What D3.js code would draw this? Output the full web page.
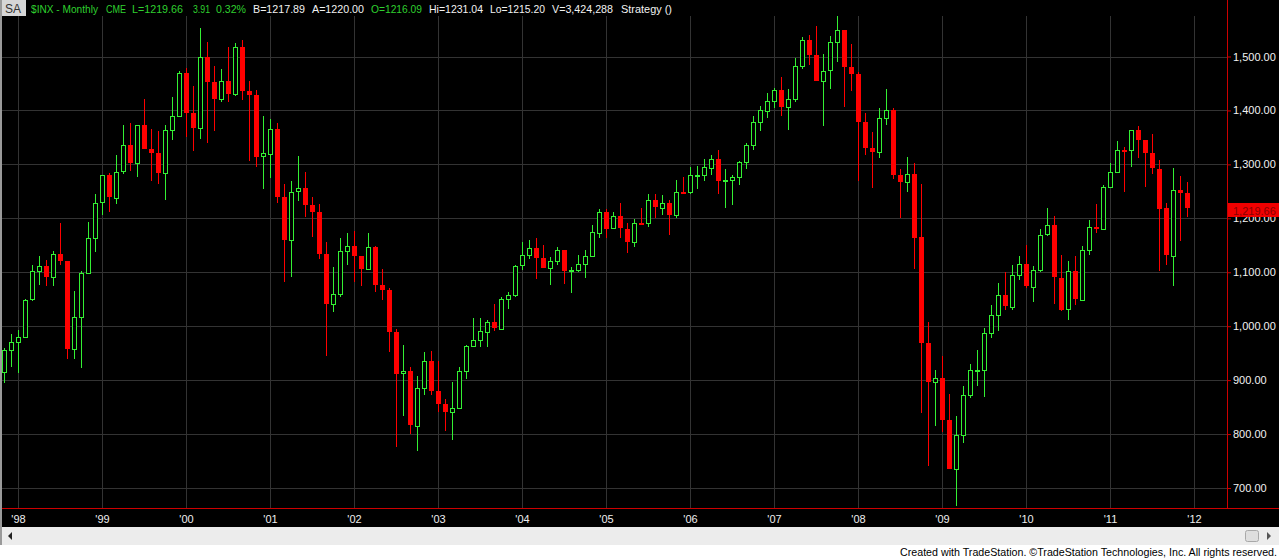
<!DOCTYPE html>
<html>
<head>
<meta charset="utf-8">
<script src="https://cdn.jsdelivr.net/npm/d3@7/dist/d3.min.js"></script>
<style>
  html, body { margin: 0; padding: 0; background: #ffffff; }
  svg { display: block; font-family: "Liberation Sans", Arial, sans-serif; }
</style>
</head>
<body>
<svg id="chart" width="1279" height="559"></svg>
<script>
// ---- Data: $INX monthly bars, Nov 1997 .. Dec 2011 ----
const firstMonth = new Date(1997, 10, 1);
const lastMonthEnd = new Date(2012, 0, 1);

const opens = [
  914.62, 955.40,
  970.43, 980.28, 1049.34, 1101.75, 1111.75, 1090.82, 1133.84, 1120.67, 957.28, 1017.01, 1098.67, 1163.63,
  1229.23, 1279.64, 1238.33, 1286.37, 1335.18, 1301.84, 1372.71, 1328.72, 1320.41, 1282.71, 1362.93, 1388.91,
  1469.25, 1394.46, 1366.42, 1498.58, 1452.43, 1420.60, 1454.60, 1430.83, 1517.68, 1436.51, 1429.40, 1314.95,
  1320.28, 1366.01, 1239.94, 1160.33, 1249.46, 1255.82, 1224.42, 1211.23, 1133.58, 1040.94, 1059.78, 1139.45,
  1148.08, 1130.20, 1106.73, 1147.39, 1076.92, 1067.14, 989.82, 911.62, 916.07, 815.28, 885.76, 936.31,
  879.82, 855.70, 841.15, 848.18, 916.92, 963.59, 974.50, 990.31, 1008.01, 995.97, 1050.71, 1058.20,
  1111.92, 1131.13, 1144.94, 1126.21, 1107.30, 1120.68, 1140.84, 1101.72, 1104.24, 1114.58, 1130.20, 1173.82,
  1211.92, 1181.27, 1203.60, 1180.59, 1156.85, 1191.50, 1191.33, 1234.18, 1220.33, 1228.81, 1207.01, 1249.48,
  1248.29, 1280.08, 1280.66, 1294.83, 1310.61, 1270.09, 1270.20, 1276.66, 1303.82, 1335.85, 1377.94, 1400.63,
  1418.30, 1438.24, 1406.82, 1420.86, 1482.37, 1530.62, 1503.35, 1455.27, 1473.99, 1526.75, 1549.38, 1481.14,
  1468.36, 1378.55, 1330.63, 1322.70, 1385.59, 1400.38, 1280.00, 1267.38, 1282.83, 1164.74, 968.75, 896.24,
  903.25, 825.88, 735.09, 797.87, 872.81, 919.14, 919.32, 987.48, 1020.62, 1057.08, 1036.19, 1095.63,
  1115.10, 1073.87, 1104.49, 1169.43, 1186.69, 1089.41, 1030.71, 1101.60, 1049.33, 1141.20, 1183.26, 1180.55,
  1257.64, 1286.12, 1327.22, 1325.83, 1363.61, 1345.20, 1320.64, 1292.28, 1218.89, 1131.42, 1253.30, 1246.96
];
const highs = [
  959.79, 986.25,
  992.65, 1050.98, 1113.44, 1130.52, 1123.36, 1138.49, 1190.58, 1121.67, 1066.11, 1102.65, 1192.97, 1244.93,
  1280.37, 1283.49, 1316.55, 1372.93, 1375.98, 1372.93, 1420.33, 1365.50, 1361.39, 1373.17, 1424.57, 1473.00,
  1478.00, 1444.55, 1552.87, 1527.19, 1481.51, 1477.26, 1517.32, 1525.21, 1530.09, 1454.82, 1438.46, 1389.06,
  1383.37, 1376.38, 1263.47, 1269.30, 1315.93, 1286.62, 1239.78, 1226.27, 1155.40, 1110.61, 1163.38, 1173.62,
  1176.55, 1130.20, 1173.03, 1147.84, 1106.59, 1070.74, 994.46, 965.00, 924.02, 907.44, 951.57, 954.28,
  935.05, 864.64, 895.90, 924.24, 965.38, 1015.33, 1015.41, 1011.01, 1040.29, 1053.79, 1063.65, 1112.56,
  1155.38, 1158.98, 1163.23, 1150.57, 1127.74, 1146.34, 1140.84, 1109.68, 1131.54, 1142.05, 1188.46, 1217.33,
  1217.80, 1212.42, 1229.11, 1191.88, 1199.56, 1219.59, 1245.15, 1245.86, 1243.13, 1233.34, 1270.64, 1275.80,
  1294.90, 1297.57, 1310.88, 1318.16, 1326.70, 1290.68, 1280.42, 1306.74, 1340.28, 1389.45, 1407.89, 1431.81,
  1441.61, 1461.57, 1438.89, 1498.02, 1535.56, 1540.56, 1555.90, 1503.89, 1538.74, 1576.09, 1545.06, 1523.57,
  1471.77, 1396.02, 1359.68, 1404.57, 1440.24, 1404.05, 1292.17, 1313.15, 1303.04, 1264.27, 1007.51, 918.85,
  943.85, 875.01, 832.98, 888.70, 930.17, 956.23, 996.68, 1039.47, 1080.15, 1101.36, 1113.69, 1130.38,
  1150.45, 1112.42, 1180.16, 1219.80, 1205.13, 1131.23, 1120.95, 1129.24, 1148.67, 1196.14, 1227.08, 1262.60,
  1302.67, 1344.07, 1332.28, 1364.56, 1370.58, 1345.20, 1356.48, 1307.38, 1229.29, 1292.66, 1277.55, 1267.06
];
const lows = [
  894.20, 924.92,
  912.83, 979.07, 1046.88, 1076.70, 1074.39, 1074.67, 1114.01, 939.98, 939.24, 923.32, 1098.67, 1136.89,
  1205.46, 1211.89, 1226.30, 1281.41, 1287.98, 1277.52, 1328.72, 1268.40, 1263.56, 1233.70, 1345.00, 1387.38,
  1350.14, 1325.07, 1346.62, 1339.40, 1361.09, 1415.00, 1416.54, 1427.00, 1419.44, 1305.79, 1296.00, 1254.07,
  1274.62, 1228.33, 1081.19, 1091.99, 1232.00, 1203.03, 1165.54, 1124.87, 944.75, 1026.76, 1054.31, 1114.26,
  1081.66, 1074.36, 1106.73, 1063.46, 1048.96, 952.92, 775.68, 833.44, 800.20, 768.63, 872.05, 871.84,
  840.34, 806.29, 788.90, 847.85, 902.83, 963.59, 962.10, 960.84, 990.36, 995.97, 1031.20, 1053.41,
  1105.08, 1124.44, 1087.16, 1107.23, 1076.32, 1113.32, 1078.78, 1060.72, 1101.29, 1090.19, 1127.60, 1163.75,
  1163.75, 1180.95, 1163.69, 1136.22, 1146.18, 1188.30, 1183.55, 1201.07, 1205.35, 1168.20, 1201.07, 1246.59,
  1245.74, 1253.61, 1268.42, 1280.74, 1245.34, 1219.29, 1224.54, 1261.30, 1290.93, 1327.10, 1360.98, 1385.93,
  1403.97, 1389.42, 1363.98, 1416.37, 1476.70, 1484.18, 1454.25, 1370.60, 1439.29, 1489.56, 1406.10, 1435.65,
  1270.05, 1316.75, 1256.98, 1312.70, 1373.07, 1272.00, 1200.44, 1248.48, 1106.42, 839.80, 741.02, 815.69,
  804.22, 734.52, 666.79, 783.32, 866.10, 888.86, 869.32, 978.51, 991.97, 1029.38, 1029.38, 1085.89,
  1071.59, 1044.50, 1101.01, 1167.00, 1040.78, 1028.33, 1010.91, 1039.70, 1049.33, 1131.87, 1173.00, 1180.00,
  1257.62, 1284.62, 1249.05, 1294.70, 1311.80, 1258.07, 1282.86, 1101.54, 1114.22, 1074.77, 1158.66, 1202.37
];
const closes = [
  955.40, 970.43,
  980.28, 1049.34, 1101.75, 1111.75, 1090.82, 1133.84, 1120.67, 957.28, 1017.01, 1098.67, 1163.63, 1229.23,
  1279.64, 1238.33, 1286.37, 1335.18, 1301.84, 1372.71, 1328.72, 1320.41, 1282.71, 1362.93, 1388.91, 1469.25,
  1394.46, 1366.42, 1498.58, 1452.43, 1420.60, 1454.60, 1430.83, 1517.68, 1436.51, 1429.40, 1314.95, 1320.28,
  1366.01, 1239.94, 1160.33, 1249.46, 1255.82, 1224.42, 1211.23, 1133.58, 1040.94, 1059.78, 1139.45, 1148.08,
  1130.20, 1106.73, 1147.39, 1076.92, 1067.14, 989.82, 911.62, 916.07, 815.28, 885.76, 936.31, 879.82,
  855.70, 841.15, 848.18, 916.92, 963.59, 974.50, 990.31, 1008.01, 995.97, 1050.71, 1058.20, 1111.92,
  1131.13, 1144.94, 1126.21, 1107.30, 1120.68, 1140.84, 1101.72, 1104.24, 1114.58, 1130.20, 1173.82, 1211.92,
  1181.27, 1203.60, 1180.59, 1156.85, 1191.50, 1191.33, 1234.18, 1220.33, 1228.81, 1207.01, 1249.48, 1248.29,
  1280.08, 1280.66, 1294.83, 1310.61, 1270.09, 1270.20, 1276.66, 1303.82, 1335.85, 1377.94, 1400.63, 1418.30,
  1438.24, 1406.82, 1420.86, 1482.37, 1530.62, 1503.35, 1455.27, 1473.99, 1526.75, 1549.38, 1481.14, 1468.36,
  1378.55, 1330.63, 1322.70, 1385.59, 1400.38, 1280.00, 1267.38, 1282.83, 1164.74, 968.75, 896.24, 903.25,
  825.88, 735.09, 797.87, 872.81, 919.14, 919.32, 987.48, 1020.62, 1057.08, 1036.19, 1095.63, 1115.10,
  1073.87, 1104.49, 1169.43, 1186.69, 1089.41, 1030.71, 1101.60, 1049.33, 1141.20, 1183.26, 1180.55, 1257.64,
  1286.12, 1327.22, 1325.83, 1363.61, 1345.20, 1320.64, 1292.28, 1218.89, 1131.42, 1253.30, 1246.96, 1219.66
];
const priceTicks = [700, 800, 900, 1000, 1100, 1200, 1300, 1400, 1500];
const yearTicks = [1998, 1999, 2000, 2001, 2002, 2003, 2004, 2005, 2006, 2007, 2008, 2009, 2010, 2011, 2012];

const headerItems = [
  {t: "$INX - Monthly", c: "green"}, {t: "CME", c: "green"}, {t: "L=1219.66", c: "green"},
  {t: "3.91", c: "green"}, {t: "0.32%", c: "green"}, {t: "B=1217.89", c: "white"},
  {t: "A=1220.00", c: "white"}, {t: "O=1216.09", c: "green"}, {t: "Hi=1231.04", c: "white"},
  {t: "Lo=1215.20", c: "white"}, {t: "V=3,424,288", c: "white"}, {t: "Strategy ()", c: "white"}
];
const footerText = "Created with TradeStation. \u00A9TradeStation Technologies, Inc. All rights reserved.";

// ---- Build ----
const months = d3.timeMonth.range(firstMonth, lastMonthEnd);
const bars = months.map((m, i) => ({i, m, o: opens[i], h: highs[i], l: lows[i], c: closes[i]}));

const W = 1279, H = 559;
const plot = {left: 0, top: 16, right: 1227, bottom: 508};
const GREEN = "#33f033", RED = "#ff0000", GRID = "#333333", AXIS = "#cc0000";

const svg = d3.select("#chart");

const x = d3.scaleLinear().domain([0, bars.length - 1]).range([4, 4 + 7 * (bars.length - 1)]);
const y = d3.scaleLinear().domain([700, 1500]).range([488, 56.5]);
const monthIndex = yr => (yr - 1997) * 12 - 10; // Jan of yr relative to Nov 1997

svg.append("rect").attr("x", 0).attr("y", 0).attr("width", W).attr("height", 545).attr("fill", "#000");
svg.append("rect").attr("x", 0).attr("y", 545).attr("width", W).attr("height", H - 545).attr("fill", "#fff");

// grid
const grid = svg.append("g").attr("shape-rendering", "crispEdges");
grid.selectAll("line.h").data(priceTicks).join("line").attr("class", "h")
  .attr("x1", plot.left).attr("x2", plot.right)
  .attr("y1", d => Math.round(y(d)) + 0.5).attr("y2", d => Math.round(y(d)) + 0.5)
  .attr("stroke", GRID);
grid.selectAll("line.v").data(yearTicks).join("line").attr("class", "v")
  .attr("x1", d => Math.round(x(monthIndex(d))) + 0.5).attr("x2", d => Math.round(x(monthIndex(d))) + 0.5)
  .attr("y1", plot.top).attr("y2", plot.bottom)
  .attr("stroke", GRID);

// candles
svg.append("clipPath").attr("id", "clip").append("rect")
  .attr("x", plot.left).attr("y", plot.top).attr("width", plot.right - plot.left).attr("height", plot.bottom - plot.top);
const cg = svg.append("g").attr("clip-path", "url(#clip)").attr("shape-rendering", "crispEdges");
const candle = cg.selectAll("g.candle").data(bars).join("g").attr("class", "candle");
candle.append("line")
  .attr("x1", d => Math.round(x(d.i)) + 0.5).attr("x2", d => Math.round(x(d.i)) + 0.5)
  .attr("y1", d => y(d.h)).attr("y2", d => y(d.l))
  .attr("stroke", d => d.c >= d.o ? GREEN : RED).attr("stroke-width", 1);
candle.append("rect")
  .attr("x", d => d.c >= d.o ? Math.round(x(d.i)) - 1.5 : Math.round(x(d.i)) - 2)
  .attr("width", d => d.c >= d.o ? 4 : 5)
  .attr("y", d => d.c >= d.o ? Math.round(y(d.c)) + 0.5 : Math.round(y(d.o)))
  .attr("height", d => Math.max(d.c >= d.o ? 1 : 2, Math.round(Math.abs(y(d.o) - y(d.c)))))
  .attr("fill", d => d.c >= d.o ? "#000" : RED)
  .attr("stroke", d => d.c >= d.o ? GREEN : "none")
  .attr("stroke-width", 1);

// axis frame lines
svg.append("line").attr("x1", 0).attr("x2", W).attr("y1", plot.bottom + 0.5).attr("y2", plot.bottom + 0.5)
  .attr("stroke", AXIS).attr("shape-rendering", "crispEdges");
svg.append("line").attr("x1", plot.right + 0.5).attr("x2", plot.right + 0.5).attr("y1", 0).attr("y2", plot.bottom)
  .attr("stroke", AXIS).attr("shape-rendering", "crispEdges");

// y axis
const yAxis = d3.axisRight(y).tickValues(priceTicks).tickFormat(d3.format(",.2f")).tickSize(4).tickPadding(2);
const yg = svg.append("g").attr("transform", `translate(${plot.right},0)`).call(yAxis);
yg.select(".domain").remove();
yg.selectAll(".tick line").attr("stroke", AXIS);
yg.selectAll(".tick text").attr("fill", "#f2f2f2").style("font-size", "11px")
  .style("font-family", "'Liberation Sans', Arial, sans-serif");

// x axis
const xAxis = d3.axisBottom(x).tickValues(yearTicks.map(monthIndex))
  .tickFormat(i => "'" + String((1997 + Math.floor((i + 10) / 12)) % 100).padStart(2, "0"))
  .tickSize(0).tickPadding(7);
const xg = svg.append("g").attr("transform", `translate(0,${plot.bottom})`).call(xAxis);
xg.select(".domain").remove();
xg.selectAll(".tick text").attr("fill", "#eeeeee").style("font-size", "11px")
  .style("font-family", "'Liberation Sans', Arial, sans-serif");

// last price label (drawn over the axis, as in the original)
const last = bars[bars.length - 1];
const ly = Math.round(y(last.c));
svg.append("rect").attr("x", plot.right + 1).attr("y", ly - 5).attr("width", W - plot.right - 1).attr("height", 14)
  .attr("fill", "#f00000");
svg.append("text").attr("x", plot.right + 6).attr("y", ly + 6.5)
  .attr("fill", "#8a0000").style("font-size", "11px").text(d3.format(",.2f")(last.c));

// header
svg.append("rect").attr("x", 0).attr("y", 0).attr("width", 26).attr("height", 16).attr("fill", "#d6d6d6");
svg.append("text").attr("x", 5).attr("y", 12.5).attr("fill", "#333").style("font-size", "12px").text("SA");
const headerX = [31, 106, 132, 193, 216, 253, 312, 371, 429, 490, 552, 621];
const headerW = [67, 20, 51, 17, 30, 52, 52, 51, 54, 55, 61, 51];
svg.append("g").selectAll("text").data(headerItems).join("text")
  .attr("x", (d, i) => headerX[i]).attr("y", 12.5)
  .attr("textLength", (d, i) => headerW[i]).attr("lengthAdjust", "spacingAndGlyphs")
  .attr("fill", d => d.c === "green" ? "#2fd02f" : "#f2f2f2")
  .style("font-size", "11px").text(d => d.t);

// left border
svg.append("rect").attr("x", 0).attr("y", 0).attr("width", 2).attr("height", 545).attr("fill", "#9a9a9a");

// scrollbar
svg.append("rect").attr("x", 2).attr("y", 527).attr("width", W - 2).attr("height", 18).attr("fill", "#ececec");
svg.append("path").attr("d", "M8,536 L12,532 L12,540 Z").attr("fill", "#222");
svg.append("rect").attr("x", 1245.5).attr("y", 530.5).attr("width", 13).attr("height", 11).attr("rx", 2)
  .attr("fill", "#dedede").attr("stroke", "#a8a8a8");
svg.append("path").attr("d", "M1267,532 L1271,536 L1267,540 Z").attr("fill", "#555");

// footer
svg.append("text").attr("x", 1277).attr("y", 556).attr("text-anchor", "end")
  .attr("textLength", 377).attr("lengthAdjust", "spacingAndGlyphs")
  .attr("fill", "#000").style("font-size", "10.5px").text(footerText);
</script>
</body>
</html>
